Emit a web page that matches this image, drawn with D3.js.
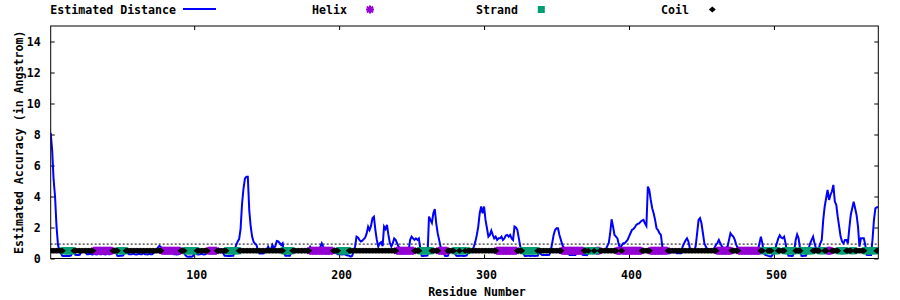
<!DOCTYPE html>
<html>
<head>
<meta charset="utf-8">
<title>Estimated Accuracy</title>
<script src="https://d3js.org/d3.v7.min.js"></script>
<style>
  body { margin: 0; background: #fff; }
  text { font-family: "DejaVu Sans Mono", monospace; font-weight: bold; font-size: 11.6px; fill: #000; }
</style>
</head>
<body>
<svg id="chart" width="900" height="300"></svg>
<script>
// estimated distance per residue (1..572)
var residueDistance = [
  8.1, 7.0, 5.1, 4.0, 2.1, 0.9, 0.5, 0.35, 0.17, 0.16,
  0.16, 0.17, 0.16, 0.16, 0.2, 0.4, 0.45, 0.23, 0.22, 0.23,
  0.24, 0.4, 0.45, 0.5, 0.4, 0.27, 0.27, 0.3, 0.27, 0.26,
  0.3, 0.27, 0.26, 0.35, 0.27, 0.28, 0.3, 0.27, 0.26, 0.35,
  0.27, 0.28, 0.35, 0.45, 0.5, 0.4, 0.17, 0.16, 0.17, 0.17,
  0.2, 0.4, 0.45, 0.35, 0.27, 0.28, 0.27, 0.33, 0.27, 0.26,
  0.27, 0.3, 0.28, 0.27, 0.35, 0.28, 0.27, 0.26, 0.3, 0.28,
  0.27, 0.35, 0.45, 0.55, 0.7, 0.82, 0.75, 0.5, 0.45, 0.4,
  0.45, 0.5, 0.4, 0.45, 0.35, 0.28, 0.27, 0.26, 0.28, 0.3,
  0.45, 0.5, 0.4, 0.2, 0.13, 0.12, 0.13, 0.12, 0.14, 0.3,
  0.4, 0.27, 0.26, 0.27, 0.3, 0.27, 0.26, 0.28, 0.35, 0.5,
  0.45, 0.4, 0.5, 0.45, 0.4, 0.5, 0.45, 0.4, 0.45, 0.35,
  0.18, 0.17, 0.16, 0.17, 0.16, 0.17, 0.18, 0.6, 0.87, 1.1,
  1.25, 1.9, 3.5, 4.5, 5.15, 5.28, 5.28, 3.1, 2.05, 1.4,
  1.08, 0.95, 0.87, 0.5, 0.33, 0.33, 0.32, 0.33, 0.5, 0.55,
  0.76, 0.55, 0.6, 0.87, 0.65, 0.8, 1.13, 1.1, 1.0, 0.87,
  0.98, 0.35, 0.18, 0.17, 0.18, 0.18, 0.4, 0.5, 0.45, 0.5,
  0.45, 0.5, 0.45, 0.4, 0.5, 0.45, 0.5, 0.55, 0.6, 0.76,
  0.6, 0.55, 0.5, 0.45, 0.5, 0.55, 0.75, 0.98, 0.76, 0.55,
  0.5, 0.45, 0.5, 0.45, 0.5, 0.45, 0.4, 0.35, 0.27, 0.27,
  0.27, 0.26, 0.27, 0.27, 0.22, 0.2, 0.17, 0.12, 0.17, 0.5,
  0.76, 1.41, 1.35, 1.2, 1.1, 1.15, 1.25, 1.35, 1.62, 2.05,
  1.84, 2.1, 2.6, 2.7, 1.85, 1.2, 0.77, 0.98, 1.05, 0.8,
  2.06, 1.9, 2.17, 1.52, 1.0, 0.77, 0.98, 1.3, 1.2, 0.98,
  0.77, 0.6, 0.5, 0.45, 0.5, 0.45, 0.5, 0.55, 1.2, 1.41,
  1.3, 1.2, 1.3, 1.2, 1.3, 0.66, 0.17, 0.16, 0.17, 0.17,
  0.2, 2.7, 2.49, 2.3, 2.92, 3.18, 2.27, 1.63, 1.2, 0.77,
  0.5, 0.4, 0.17, 0.16, 0.17, 0.4, 0.5, 0.45, 0.4, 0.3,
  0.17, 0.16, 0.17, 0.18, 0.17, 0.16, 0.17, 0.2, 0.4, 0.5,
  0.45, 0.55, 0.77, 1.09, 1.52, 2.06, 2.92, 3.35, 2.92, 3.35,
  2.49, 1.95, 1.41, 1.52, 1.8, 1.52, 1.3, 1.41, 1.2, 1.3,
  1.3, 1.41, 1.2, 1.3, 1.48, 1.52, 1.41, 1.52, 1.3, 1.2,
  2.06, 2.0, 1.84, 1.3, 0.77, 0.5, 0.4, 0.17, 0.16, 0.17,
  0.17, 0.16, 0.17, 0.17, 0.16, 0.17, 0.18, 0.4, 0.3, 0.23,
  0.22, 0.23, 0.22, 0.23, 0.24, 0.5, 0.98, 1.52, 1.84, 1.95,
  1.95, 1.52, 1.2, 0.88, 0.7, 0.5, 0.45, 0.35, 0.23, 0.22,
  0.23, 0.22, 0.23, 0.35, 0.45, 0.5, 0.4, 0.23, 0.22, 0.23,
  0.22, 0.35, 0.45, 0.5, 0.38, 0.36, 0.38, 0.45, 0.5, 0.45,
  0.5, 0.45, 0.55, 0.6, 0.8, 0.98, 1.63, 2.53, 2.06, 1.52,
  1.41, 1.3, 0.88, 0.66, 0.85, 0.98, 0.98, 1.09, 1.2, 1.41,
  1.63, 1.84, 1.9, 2.0, 2.17, 2.23, 2.27, 2.38, 2.45, 2.49,
  2.27, 2.1, 4.64, 4.42, 3.78, 3.24, 2.92, 2.49, 1.95, 1.84,
  1.63, 1.52, 0.77, 0.55, 0.45, 0.4, 0.34, 0.34, 0.4, 0.45,
  0.38, 0.45, 0.34, 0.34, 0.35, 0.34, 0.77, 0.98, 1.16, 1.3,
  1.1, 0.66, 0.5, 0.45, 0.45, 0.8, 1.63, 2.49, 2.6, 2.27,
  1.63, 0.98, 0.77, 0.6, 0.55, 0.6, 0.5, 0.55, 0.7, 0.88,
  1.0, 1.2, 0.98, 0.8, 0.7, 0.66, 0.7, 0.77, 1.2, 1.63,
  1.5, 1.41, 1.2, 0.88, 0.7, 0.66, 0.5, 0.45, 0.5, 0.45,
  0.5, 0.45, 0.5, 0.45, 0.5, 0.45, 0.5, 0.45, 0.55, 0.98,
  1.41, 0.98, 0.34, 0.23, 0.2, 0.17, 0.15, 0.12, 0.23, 0.4,
  0.66, 0.98, 1.3, 1.5, 1.35, 1.3, 1.41, 0.98, 0.45, 0.17,
  0.17, 0.16, 0.17, 0.5, 1.2, 1.55, 1.3, 0.66, 0.17, 0.16,
  0.17, 0.17, 0.4, 0.66, 0.98, 1.2, 1.41, 0.98, 0.66, 0.6,
  0.66, 0.98, 1.2, 2.49, 3.35, 3.89, 4.43, 3.78, 4.1, 4.32,
  4.75, 3.67, 3.46, 2.7, 2.06, 1.41, 1.09, 0.98, 1.2, 1.2,
  0.98, 1.95, 2.81, 3.24, 3.67, 3.24, 2.81, 2.06, 0.77, 1.3,
  1.3, 1.3, 0.88, 0.23, 0.22, 0.23, 0.23, 1.2, 2.49, 3.24,
  3.3, 3.3
];

// secondary structure runs: [first residue, last residue, class]
var structureRuns = [
  [1, 9, "C"], [10, 16, "E"], [17, 30, "C"], [31, 43, "H"], [44, 47, "C"],
  [48, 52, "E"], [53, 77, "C"], [78, 90, "H"], [91, 93, "C"], [94, 101, "E"],
  [102, 109, "C"], [110, 115, "H"], [116, 122, "C"], [123, 130, "E"], [131, 161, "C"],
  [162, 167, "E"], [168, 179, "C"], [180, 195, "H"], [196, 199, "C"], [200, 206, "E"],
  [207, 239, "C"], [240, 251, "H"], [252, 255, "C"], [256, 263, "E"], [264, 268, "C"],
  [269, 274, "H"], [275, 279, "C"], [280, 282, "E"], [283, 283, "C"], [284, 286, "E"],
  [287, 287, "C"], [288, 288, "E"], [289, 308, "C"], [309, 322, "H"], [323, 326, "C"],
  [327, 336, "E"], [337, 353, "C"], [354, 368, "H"], [369, 370, "C"], [371, 371, "E"],
  [372, 372, "C"], [373, 375, "E"], [376, 376, "C"], [377, 377, "E"], [378, 379, "H"],
  [380, 391, "C"], [392, 394, "H"], [395, 395, "C"], [396, 408, "H"], [409, 414, "C"],
  [415, 426, "H"], [427, 460, "C"], [461, 470, "H"], [471, 475, "C"], [476, 490, "H"],
  [491, 492, "C"], [493, 495, "E"], [496, 498, "C"], [499, 502, "E"], [503, 507, "C"],
  [508, 514, "E"], [515, 518, "C"], [519, 526, "E"], [527, 531, "C"], [532, 534, "E"],
  [535, 536, "C"], [537, 539, "H"], [540, 544, "C"], [545, 549, "E"], [550, 553, "C"],
  [554, 555, "E"], [556, 562, "C"], [563, 570, "E"], [571, 572, "C"]
];

var markerLevel = 0.5;
var thresholdLevel = 0.93;
var xTicks = [100, 200, 300, 400, 500];
var yTicks = [0, 2, 4, 6, 8, 10, 12, 14];
var legendNames = ["Estimated Distance", "Helix", "Strand", "Coil"];

var colors = { line: "#0000ff", H: "#9400d3", E: "#009e73", C: "#000000" };

var plotLeft = 50.7, plotRight = 878.3, plotTop = 26, plotBottom = 258.5;

var svg = d3.select("#chart");

var x = d3.scaleLinear().domain([1, residueDistance.length]).range([plotLeft, plotRight]);
var y = d3.scaleLinear().domain([0, 15]).range([plotBottom, plotTop]);

var residues = residueDistance.map(function(d, i) { return { r: i + 1, v: d }; });
var ssByResidue = [];
structureRuns.forEach(function(run) {
  for (var r = run[0]; r <= run[1]; r++) ssByResidue.push({ r: r, ss: run[2] });
});

svg.append("defs").append("clipPath").attr("id", "plotClip")
  .append("rect").attr("x", plotLeft).attr("y", plotTop)
  .attr("width", plotRight - plotLeft).attr("height", plotBottom - plotTop);

// marker shapes
var starPath = "M-4,0H4M0,-4V4M-3,-3L3,3M-3,3L3,-3";
var coilPath = "M-3.5,0L0,-3L3.5,0L0,3Z";

function drawMarker(g, ss, cx, cy) {
  if (ss === "H") {
    g.append("path").attr("d", starPath).attr("transform", "translate(" + cx + "," + cy + ")")
      .attr("stroke", colors.H).attr("stroke-width", 2).attr("fill", "none");
  } else if (ss === "E") {
    g.append("rect").attr("x", cx - 3.5).attr("y", cy - 3.5).attr("width", 7).attr("height", 7)
      .attr("fill", colors.E);
  } else {
    g.append("path").attr("d", coilPath).attr("transform", "translate(" + cx + "," + cy + ")")
      .attr("fill", colors.C);
  }
}

// axes: bottom/left with labels, top/right mirrored ticks, all inward
svg.append("g").attr("transform", "translate(0," + plotBottom + ")")
  .call(d3.axisBottom(x).tickValues(xTicks).tickSizeInner(-4).tickSizeOuter(0).tickPadding(12))
  .call(function(g) { g.select(".domain").remove(); g.selectAll("text").attr("dx", 2); });
svg.append("g").attr("transform", "translate(0," + plotTop + ")")
  .call(d3.axisTop(x).tickValues(xTicks).tickSizeInner(-4).tickSizeOuter(0).tickFormat(""))
  .call(function(g) { g.select(".domain").remove(); });
svg.append("g").attr("transform", "translate(" + plotLeft + ",0)")
  .call(d3.axisLeft(y).tickValues(yTicks).tickSizeInner(-4).tickSizeOuter(0).tickPadding(10))
  .call(function(g) { g.select(".domain").remove(); });
svg.append("g").attr("transform", "translate(" + plotRight + ",0)")
  .call(d3.axisRight(y).tickValues(yTicks).tickSizeInner(-4).tickSizeOuter(0).tickFormat(""))
  .call(function(g) { g.select(".domain").remove(); });
svg.selectAll(".tick line").attr("stroke", "#000");
svg.selectAll(".tick text").style("font-family", "DejaVu Sans Mono").style("font-weight", "bold").style("font-size", "11.6px");

var plot = svg.append("g").attr("clip-path", "url(#plotClip)");

// threshold dotted line
plot.append("line")
  .attr("x1", plotLeft).attr("x2", plotRight)
  .attr("y1", y(thresholdLevel)).attr("y2", y(thresholdLevel))
  .attr("stroke", "#000").attr("stroke-width", 1).attr("stroke-dasharray", "2,2");

// distance line
plot.append("path").datum(residues)
  .attr("fill", "none").attr("stroke", colors.line).attr("stroke-width", 2)
  .attr("d", d3.line().x(function(d) { return x(d.r); }).y(function(d) { return y(d.v); }));

// structure markers, drawn helix, strand, then coil on top
["H", "E", "C"].forEach(function(kind) {
  var g = plot.append("g");
  ssByResidue.filter(function(d) { return d.ss === kind; }).forEach(function(d) {
    drawMarker(g, kind, x(d.r), y(markerLevel));
  });
});

// frame
svg.append("rect").attr("x", plotLeft).attr("y", plotTop)
  .attr("width", plotRight - plotLeft).attr("height", plotBottom - plotTop)
  .attr("fill", "none").attr("stroke", "#000").attr("stroke-width", 1);

// axis titles
svg.append("text").attr("x", 477).attr("y", 296).attr("text-anchor", "middle").text("Residue Number");
svg.append("text").attr("transform", "translate(19," + ((plotTop + plotBottom) / 2) + ") rotate(-90)")
  .attr("dy", "0.35em").attr("text-anchor", "middle").text("Estimated Accuracy (in Angstrom)");

// legend
var legend = svg.append("g");
var legendRight = [176, 347, 518, 689];
legendNames.forEach(function(name, i) {
  legend.append("text").attr("x", legendRight[i]).attr("y", 13.5).attr("text-anchor", "end").text(name);
});
legend.append("line").attr("x1", 183).attr("x2", 216).attr("y1", 9).attr("y2", 9)
  .attr("stroke", colors.line).attr("stroke-width", 2);
drawMarker(legend, "H", 370, 9.5);
drawMarker(legend, "E", 541.3, 9.5);
drawMarker(legend, "C", 712.3, 9.5);
</script>
</body>
</html>
